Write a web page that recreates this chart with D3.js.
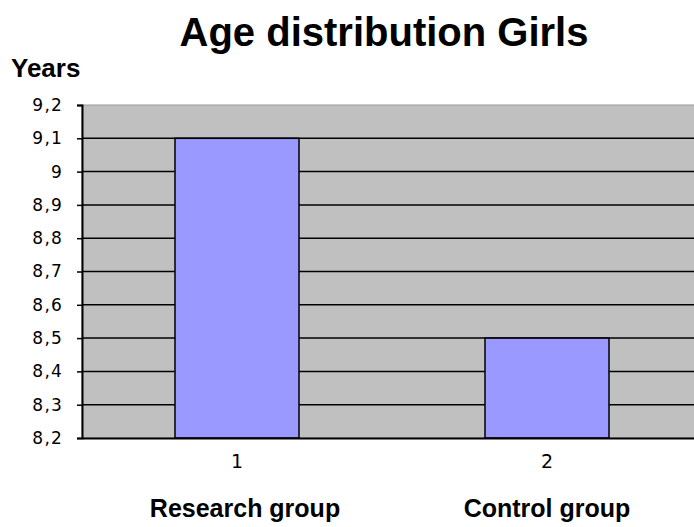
<!DOCTYPE html>
<html>
<head>
<meta charset="utf-8">
<script src="https://cdn.jsdelivr.net/npm/d3@7"></script>
<style>
  body { margin: 0; background: #fff; }
  text { font-family: "DejaVu Sans", Arial, sans-serif; }
  .bold { font-family: "Liberation Sans", Arial, sans-serif; font-weight: bold; }
</style>
</head>
<body>
<script>
// girls age per group
var categories = ["1", "2"];
var groupNames = ["Research group", "Control group"];
var ages = [9.1, 8.5];
var yTicks = [8.2, 8.3, 8.4, 8.5, 8.6, 8.7, 8.8, 8.9, 9.0, 9.1, 9.2];

var width = 694;
var height = 527;
var margin = {top: 105, right: -8, bottom: 89, left: 82};

var svg = d3.select("body")
  .append("svg")
  .attr("width", width)
  .attr("height", height);

var x = d3.scaleBand()
  .domain(categories)
  .range([margin.left, width - margin.right]);

var y = d3.scaleLinear()
  .domain([8.2, 9.2])
  .range([height - margin.bottom, margin.top]);

var fmt = function(d) { return d3.format("")(+d.toFixed(1)).replace(".", ","); };

// plot background
svg.append("rect")
  .attr("x", margin.left)
  .attr("y", margin.top)
  .attr("width", x.range()[1] - margin.left)
  .attr("height", y(8.2) - margin.top)
  .attr("fill", "#c0c0c0")
  .attr("stroke", "#999")
  .attr("stroke-width", 1);

// gridlines
svg.append("g")
  .selectAll("line")
  .data(yTicks.slice(1, -1))
  .enter().append("line")
  .attr("x1", margin.left)
  .attr("x2", x.range()[1])
  .attr("y1", function(d) { return y(d); })
  .attr("y2", function(d) { return y(d); })
  .attr("stroke", "#000")
  .attr("stroke-width", 1.5);

// bars
var barW = x.bandwidth() * 0.4;
svg.append("g")
  .selectAll("rect")
  .data(ages)
  .enter().append("rect")
  .attr("x", function(d, i) { return x(categories[i]) + x.bandwidth() / 2 - barW / 2; })
  .attr("y", function(d) { return y(d); })
  .attr("width", barW)
  .attr("height", function(d) { return y(8.2) - y(d); })
  .attr("fill", "#9999ff")
  .attr("stroke", "#000")
  .attr("stroke-width", 1.5);

// y axis
var yAxis = svg.append("g")
  .attr("transform", "translate(" + margin.left + ",0)")
  .call(d3.axisLeft(y).tickValues(yTicks).tickFormat(fmt).tickSize(5).tickPadding(14));
yAxis.select(".domain").attr("stroke-width", 2);
yAxis.selectAll(".tick line").attr("stroke-width", 1.5);
yAxis.selectAll("text")
  .attr("font-family", null).attr("font-size", null)
  .style("font-size", "17px").style("letter-spacing", "1.2px").attr("fill", "#000");

// x axis
var xAxis = svg.append("g")
  .attr("transform", "translate(0," + y(8.2) + ")")
  .call(d3.axisBottom(x).tickSize(0).tickPadding(17));
xAxis.select(".domain").attr("stroke-width", 2);
xAxis.selectAll("text")
  .attr("font-family", null).attr("font-size", null)
  .style("font-size", "19px").attr("fill", "#000");

// group names below
var nudge = [8, 0];
svg.append("g")
  .selectAll("text")
  .data(groupNames)
  .enter().append("text")
  .attr("class", "bold")
  .attr("x", function(d, i) { return x(categories[i]) + x.bandwidth() / 2 + nudge[i]; })
  .attr("y", 517)
  .attr("text-anchor", "middle")
  .style("font-size", "25px")
  .text(function(d) { return d; });

svg.append("text")
  .attr("class", "bold")
  .attr("x", 384)
  .attr("y", 46)
  .attr("text-anchor", "middle")
  .style("font-size", "40px")
  .text("Age distribution Girls");

svg.append("text")
  .attr("class", "bold")
  .attr("x", 11)
  .attr("y", 77)
  .style("font-size", "26px")
  .text("Years");
</script>
</body>
</html>
